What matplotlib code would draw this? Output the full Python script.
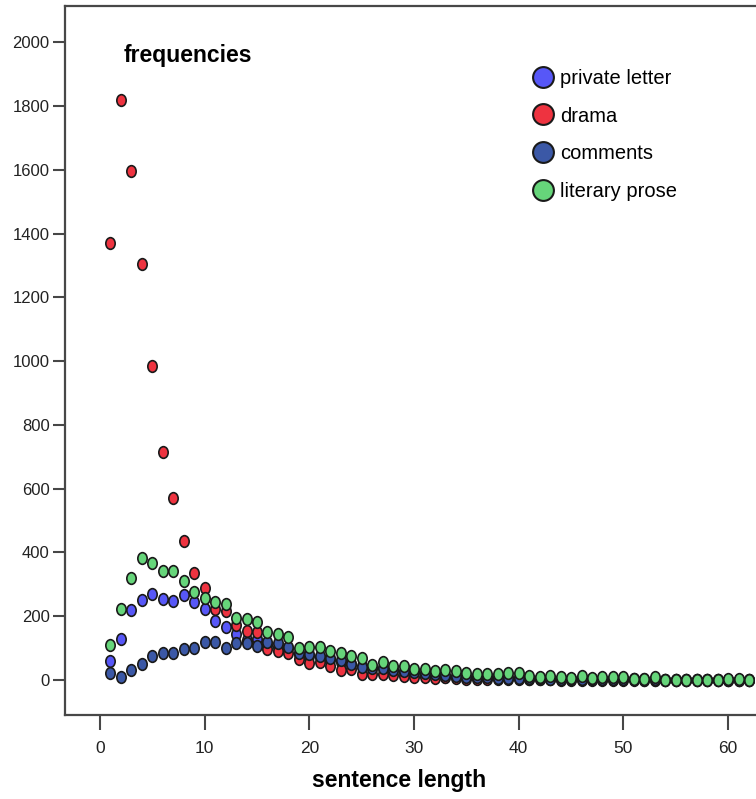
import matplotlib
matplotlib.use('Agg')
import matplotlib.pyplot as plt
import numpy as np
from matplotlib.path import Path
from matplotlib.transforms import Affine2D
from matplotlib.lines import Line2D

plt.rcParams['font.family'] = ['Liberation Sans', 'DejaVu Sans']

# sentence length 1..62
lengths = list(range(1, 63))

private_letter = [60, 128, 219, 251, 269, 254, 248, 266, 245, 222,
                  186, 167, 145, 125, 130, 110, 105, 100, 80, 75,
                  72, 62, 55, 50, 45, 38, 37, 30, 26, 24,
                  20, 17, 10, 9, 8, 7, 6, 6, 5, 5,
                  4, 4, 3, 3, 3, 3, 2, 2, 2, 2,
                  2, 1, 1, 1, 1, 1, 1, 1, 1, 0,
                  0, 0]
drama = [1370, 1820, 1598, 1305, 985, 715, 572, 436, 337, 290,
         222, 217, 172, 153, 152, 96, 90, 84, 66, 53,
         55, 45, 31, 33, 20, 20, 20, 16, 13, 9,
         9, 6, 8, 5, 4, 4, 3, 3, 3, 2,
         2, 2, 2, 1, 1, 1, 1, 1, 1, 1,
         1, 1, 0, 0, 0, 0, 0, 0, 0, 0,
         0, 0]
comments = [23, 10, 31, 50, 75, 85, 86, 96, 100, 118,
            120, 99, 115, 115, 108, 120, 115, 105, 85, 80,
            75, 68, 63, 50, 42, 38, 37, 30, 28, 25,
            22, 18, 15, 12, 10, 9, 8, 7, 6, 6,
            5, 5, 4, 4, 3, 3, 3, 3, 2, 2,
            2, 2, 2, 1, 1, 1, 1, 1, 1, 1,
            1, 1]
literary_prose = [110, 222, 320, 382, 366, 343, 343, 310, 277, 258,
                  245, 237, 193, 190, 183, 151, 144, 136, 99, 102,
                  102, 92, 86, 75, 68, 47, 57, 44, 44, 33,
                  33, 29, 31, 29, 21, 19, 19, 19, 21, 21,
                  13, 10, 13, 10, 5, 13, 5, 8, 8, 8,
                  2, 2, 8, 0, 0, 0, 0, 0, 0, 2,
                  2, 0]

series_names = ['private letter', 'drama', 'comments', 'literary prose']
series_colors = ['#5757f7', '#ee3340', '#3b58a6', '#66d57a']
series_data = [private_letter, drama, comments, literary_prose]

# slightly squashed circle, like the original export
ellipse = Affine2D().scale(0.8, 1.0).transform_path(Path.unit_circle())

fig = plt.figure(figsize=(7.56, 7.99), dpi=100)
ax = fig.add_axes([65 / 756, 84 / 799, 705 / 756, 709 / 799])

for name, col, vals in zip(series_names, series_colors, series_data):
    ax.plot(lengths, vals, linestyle='none', marker=ellipse, markersize=8.4,
            markerfacecolor=col, markeredgecolor='#1a1a1a', markeredgewidth=1.2,
            label=name)

ax.set_xlim(-3.34, 64.0)
ax.set_ylim(-109.8, 2114)
ax.set_xticks(range(0, 61, 10))
ax.set_yticks(range(0, 2001, 200))

for sp in ax.spines.values():
    sp.set_color('#474747')
    sp.set_linewidth(1.6)
ax.tick_params(axis='x', length=11, width=1.5, color='#474747', pad=8,
               labelsize=12.5, labelcolor='#222222')
ax.tick_params(axis='y', length=8.5, width=1.5, color='#474747', pad=2.5,
               labelsize=12, labelcolor='#222222')

fig.text(124 / 756, 1 - 62 / 799, 'frequencies', fontsize=16.5, fontweight='bold',
         ha='left', va='baseline')
fig.text(399 / 756, 1 - 787 / 799, 'sentence length', fontsize=16.5, fontweight='bold',
         ha='center', va='baseline')

handles = [Line2D([], [], linestyle='none', marker='o', markersize=15,
                  markerfacecolor=c, markeredgecolor='#1a1a1a', markeredgewidth=1.5)
           for c in series_colors]
ax.legend(handles, series_names, loc='upper left', bbox_to_anchor=(532 / 756, 1 - 69 / 799),
          bbox_transform=fig.transFigure, frameon=False, fontsize=14.5,
          handlelength=1.1, handletextpad=0.3, labelspacing=0.92,
          borderpad=0, borderaxespad=0)

fig.savefig('out.png', dpi=100)
